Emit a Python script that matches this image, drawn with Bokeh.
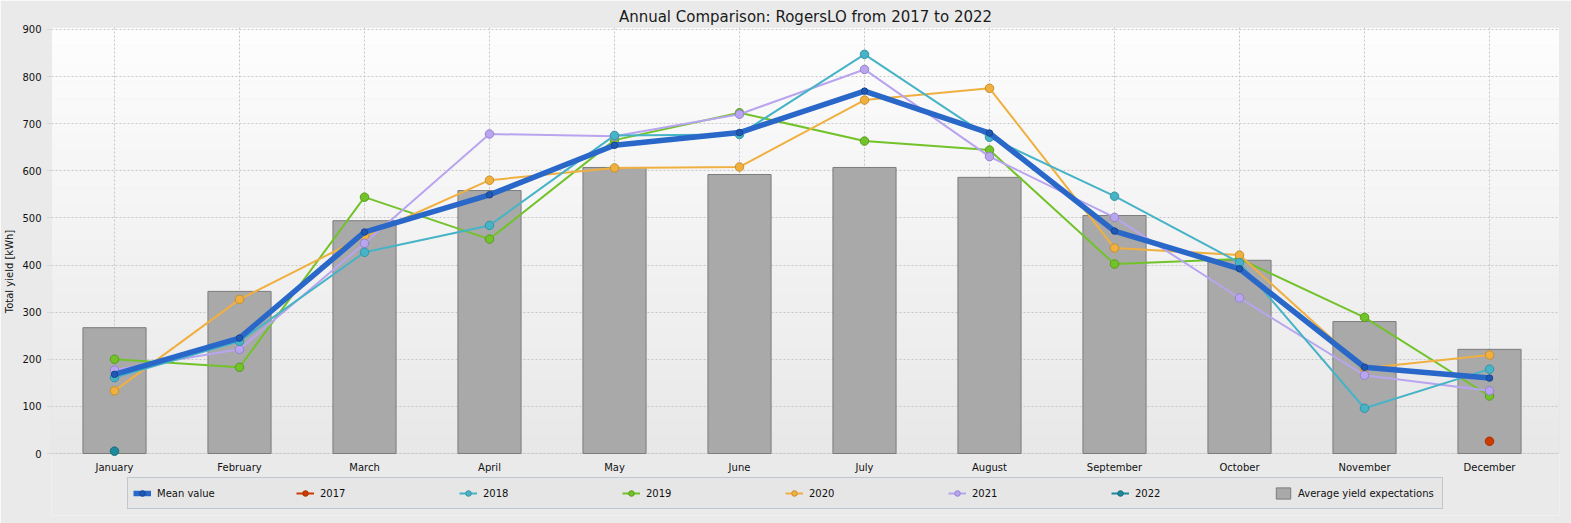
import math
from bokeh.plotting import figure
from bokeh.models import (FixedTicker, Legend, LegendItem, BoxAnnotation, Range1d,
                          LabelSet, ColumnDataSource)
from bokeh.core.properties import value
from bokeh.embed import file_html
from bokeh.resources import INLINE

NaN = float("nan")

months = ["January", "February", "March", "April", "May", "June", "July",
          "August", "September", "October", "November", "December"]
expectation = [267, 344, 494, 558, 607, 592, 607, 586, 505, 410, 280, 221]
mean_value = [168, 245, 470, 549, 654, 681, 769, 680, 472, 392, 183, 160]
y2017 = [NaN, NaN, NaN, NaN, NaN, NaN, NaN, NaN, NaN, NaN, NaN, 26]
y2018 = [161, 238, 427, 484, 675, 677, 847, 671, 546, 405, 96, 179]
y2019 = [200, 183, 544, 455, 665, 723, 663, 644, 402, 413, 289, 122]
y2020 = [133, 327, 461, 580, 606, 608, 750, 775, 436, 421, 181, 209]
y2021 = [177, 221, 446, 678, 673, 720, 815, 630, 501, 330, 166, 133]
y2022 = [5, NaN, NaN, NaN, NaN, NaN, NaN, NaN, NaN, NaN, NaN, NaN]
y_ticks = [0, 100, 200, 300, 400, 500, 600, 700, 800, 900]

xs = list(range(len(months)))
FONT = "DejaVu Sans"
Y_TOP = 904
PX_PER_UNIT = 426 / Y_TOP          # plot area: 426 px for 0..904
Y_BOTTOM = -62 / PX_PER_UNIT       # extra 62 px below zero for labels + legend

p = figure(frame_width=1508, frame_height=488,
           x_range=Range1d(-0.504, 11.56), y_range=Range1d(Y_BOTTOM, Y_TOP),
           output_backend="svg", toolbar_location=None,
           title="Annual Comparison: RogersLO from 2017 to 2022",
           min_border_left=51, min_border_right=12, min_border_top=27,
           min_border_bottom=8)

p.title.align = "center"
p.title.text_font = FONT
p.title.text_font_size = "15px"
p.title.text_font_style = "normal"
p.title.text_color = "#1a1a1a"
p.title.standoff = 3

p.border_fill_color = "#eaeaea"
p.background_fill_color = "#eaeaea"
p.outline_line_color = None

# vertical gradient of the plot area background
nb = 24
top_c = (253, 253, 253)
bot_c = (232, 232, 232)
for i in range(nb):
    t = (i + 0.5) / nb
    c = tuple(int(round(bot_c[k] + (top_c[k] - bot_c[k]) * t)) for k in range(3))
    p.add_layout(BoxAnnotation(bottom=Y_TOP * i / nb, top=Y_TOP * (i + 1) / nb,
                               fill_color="#%02x%02x%02x" % c, fill_alpha=1,
                               line_alpha=0, level="image"))

# grids
p.ygrid.ticker = FixedTicker(ticks=y_ticks)
p.xgrid.ticker = FixedTicker(ticks=xs)
for g in (p.xgrid, p.ygrid):
    g.grid_line_color = "#c6c6c6"
    g.grid_line_dash = "2 2"
    g.grid_line_width = 1
try:
    p.xgrid[0].cross_bounds = (0, Y_TOP)
except Exception:
    p.xgrid.visible = False
    p.segment(x0=xs, x1=xs, y0=[0] * len(xs), y1=[Y_TOP] * len(xs),
              line_color="#c6c6c6", line_dash="2 2", line_width=1, level="underlay")

# plot area outline (x axis line at 0)
p.add_layout(BoxAnnotation(bottom=0, top=Y_TOP, fill_alpha=0,
                           line_color="#c4c4c4", line_width=1, level="underlay"))

# axes
p.xaxis.visible = False
p.yaxis.ticker = FixedTicker(ticks=y_ticks)
p.yaxis.bounds = (0, Y_TOP)
p.yaxis.axis_label = "Total yield [kWh]"
ax = p.yaxis[0]
ax.axis_line_color = None
ax.major_tick_line_color = "#c4c4c4"
ax.major_tick_line_dash = "1 1"
ax.major_tick_in = 0
ax.major_tick_out = 4
ax.minor_tick_line_color = None
ax.major_label_text_font = FONT
ax.major_label_text_font_size = "10px"
ax.major_label_text_color = "#111111"
ax.axis_label_text_font = FONT
ax.axis_label_text_font_size = "10px"
ax.axis_label_text_font_style = "normal"
ax.axis_label_text_color = "#111111"
ax.major_label_standoff = 6
ax.axis_label_standoff = 4

# month labels under the x axis
month_src = ColumnDataSource(dict(x=xs, text=months))
p.add_layout(LabelSet(x="x", y=0, text="text", source=month_src,
                      y_offset=-14, text_align="center", text_baseline="middle",
                      text_font=value(FONT), text_font_size="10px",
                      text_color="#111111"))

# bars
bars = p.vbar(x=xs, top=expectation, width=0.505, bottom=0,
              fill_color="#a9a9a9", line_color="#7c7c7c", line_width=1)

series = [
    ("2017", y2017, "#cc3b00", "#a83000"),
    ("2019", y2019, "#72c22a", "#5a9c1c"),
    ("2020", y2020, "#f0b040", "#c98f2c"),
    ("2021", y2021, "#b9a4ef", "#9583cc"),
    ("2018", y2018, "#47b3c6", "#3793a4"),
    ("2022", y2022, "#1d8a9b", "#166f7d"),
]
rend = {}
for name, vals, col, edge in series:
    l = p.line(xs, vals, line_color=col, line_width=2)
    s = p.scatter(xs, vals, size=8.5, fill_color=col, line_color=edge, line_width=1)
    rend[name] = [l, s]

ml = p.line(xs, mean_value, line_color="#2968c8", line_width=5.5)
ms = p.scatter(xs, mean_value, size=6.5, fill_color="#1e58b4", line_color="#17468f")
rend["Mean value"] = [ml, ms]

order = ["Mean value", "2017", "2018", "2019", "2020", "2021", "2022"]
items = [LegendItem(label=n, renderers=rend[n]) for n in order]
items.append(LegendItem(label="Average yield expectations", renderers=[bars]))

legend = Legend(items=items, orientation="horizontal", location=(76, 6),
                glyph_width=18, glyph_height=14, label_standoff=6,
                label_width=139, label_height=20, spacing=0, padding=5, margin=0,
                label_text_font=FONT, label_text_font_size="10px",
                label_text_color="#111111",
                background_fill_color="#e6e6e6", background_fill_alpha=1,
                border_line_color="#95a7ba", border_line_width=1)
p.add_layout(legend)

open("out.html", "w").write(file_html(p, INLINE))
